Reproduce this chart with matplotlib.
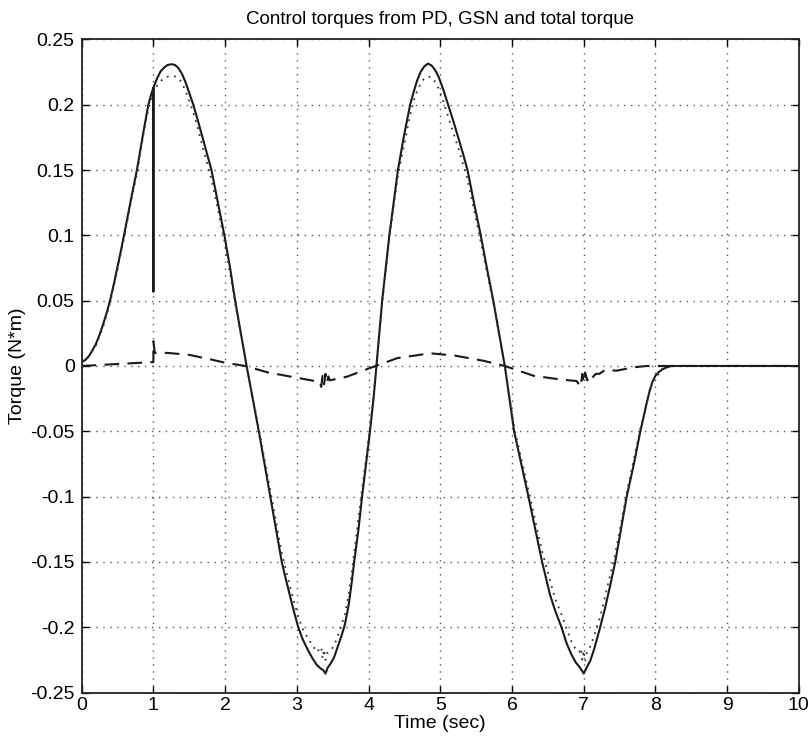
import matplotlib
matplotlib.use("Agg")
import matplotlib.pyplot as plt

plt.rcParams['font.family'] = ['Liberation Sans', 'DejaVu Sans']

# Total torque (solid)
total_t = [0.00, 0.05, 0.10, 0.15, 0.20, 0.25, 0.30, 0.35, 0.395, 0.45, 0.50, 0.55, 0.59, 0.65, 0.70,
           0.77, 0.82, 0.87, 0.93, 0.97, 1.00, 1.00, 1.00,
           1.05, 1.10, 1.15, 1.20, 1.255, 1.30, 1.35, 1.40, 1.45, 1.50, 1.557, 1.62, 1.69, 1.75, 1.81,
           1.90, 1.99, 2.07, 2.14, 2.22, 2.30, 2.385, 2.47, 2.55, 2.63, 2.71, 2.79, 2.85, 2.90, 2.96,
           3.02, 3.08, 3.15, 3.22, 3.28, 3.33, 3.37, 3.40, 3.43, 3.47, 3.52, 3.57, 3.62, 3.67, 3.72,
           3.76, 3.80, 3.86, 3.91, 3.965, 4.02, 4.07, 4.11, 4.15, 4.19, 4.24, 4.29, 4.35, 4.41, 4.49,
           4.58, 4.63, 4.68, 4.73, 4.78, 4.83, 4.88, 4.93, 4.98, 5.04, 5.11, 5.18, 5.25, 5.32, 5.38,
           5.47, 5.565, 5.65, 5.74, 5.82, 5.90, 5.965, 6.03, 6.13, 6.23, 6.325, 6.42, 6.53, 6.60,
           6.69, 6.76, 6.83, 6.89, 6.95, 7.00, 7.04, 7.09, 7.15, 7.23, 7.30, 7.37, 7.44, 7.52, 7.60,
           7.70, 7.79, 7.84, 7.88, 7.92, 7.96, 8.00, 8.05, 8.10, 8.15, 8.20, 8.23, 10.0]
total_v = [0.003, 0.0045, 0.0075, 0.012, 0.017, 0.024, 0.032, 0.041, 0.050, 0.063, 0.076, 0.089, 0.100, 0.117, 0.131,
           0.150, 0.166, 0.182, 0.200, 0.208, 0.213, 0.057, 0.213,
           0.220, 0.2255, 0.2285, 0.2305, 0.231, 0.2305, 0.228, 0.2235, 0.217, 0.209, 0.200, 0.188, 0.174, 0.162, 0.150,
           0.125, 0.100, 0.075, 0.050, 0.025, 0.000, -0.025, -0.050, -0.075, -0.100, -0.125, -0.150, -0.164, -0.175, -0.188,
           -0.200, -0.209, -0.217, -0.224, -0.229, -0.2315, -0.233, -0.2355, -0.231, -0.228, -0.223, -0.215, -0.207, -0.198, -0.184,
           -0.168, -0.150, -0.125, -0.100, -0.075, -0.050, -0.025, 0.000, 0.025, 0.050, 0.075, 0.100, 0.125, 0.150, 0.175,
           0.200, 0.210, 0.219, 0.2255, 0.2295, 0.2315, 0.230, 0.2265, 0.221, 0.212, 0.200, 0.188, 0.175, 0.162, 0.150,
           0.125, 0.100, 0.075, 0.050, 0.025, 0.000, -0.025, -0.050, -0.075, -0.100, -0.125, -0.150, -0.175, -0.187,
           -0.200, -0.212, -0.221, -0.227, -0.231, -0.2355, -0.231, -0.226, -0.216, -0.200, -0.185, -0.168, -0.150, -0.125, -0.100,
           -0.075, -0.050, -0.038, -0.028, -0.019, -0.012, -0.0075, -0.0045, -0.0025, -0.0012, -0.0003, 0.000, 0.000]

# GSN torque (dotted)
gsn_t = [0.00, 0.10, 0.20, 0.30, 0.395, 0.50, 0.59, 0.70, 0.77, 0.87, 0.93, 1.00, 1.05, 1.10, 1.15, 1.20,
         1.26, 1.32, 1.37, 1.42, 1.48, 1.557, 1.62, 1.69, 1.81, 1.99,
         2.14, 2.30, 2.47, 2.63, 2.79, 2.90, 3.02, 3.08, 3.15, 3.22, 3.28, 3.34, 3.36, 3.38, 3.40, 3.42,
         3.47, 3.52, 3.57, 3.62, 3.67, 3.72, 3.76, 3.80, 3.91, 4.02, 4.11, 4.19, 4.29, 4.41, 4.58, 4.63,
         4.68, 4.73, 4.78, 4.83, 4.88, 4.93, 4.98, 5.04, 5.11, 5.25, 5.38,
         5.565, 5.74, 5.90, 6.03, 6.23, 6.42, 6.60, 6.69, 6.76, 6.83, 6.89, 6.94, 6.96, 6.98, 7.00, 7.02,
         7.04, 7.09, 7.15, 7.23, 7.37, 7.44, 7.60, 7.79, 7.95, 8.10, 8.23, 10.0]
gsn_v = [0.003, 0.007, 0.016, 0.030, 0.048, 0.074, 0.098, 0.129, 0.147, 0.180, 0.197, 0.210, 0.2145, 0.218, 0.2205, 0.2215,
         0.222, 0.2215, 0.219, 0.214, 0.206, 0.194, 0.182, 0.167, 0.143, 0.096,
         0.048, 0.000, -0.048, -0.095, -0.143, -0.168, -0.192, -0.201, -0.208, -0.214, -0.219, -0.215, -0.224, -0.217, -0.225, -0.220,
         -0.218, -0.214, -0.207, -0.199, -0.190, -0.176, -0.161, -0.143, -0.094, -0.048, -0.001, 0.048, 0.097, 0.146, 0.192, 0.203,
         0.211, 0.2165, 0.2205, 0.2215, 0.221, 0.2175, 0.212, 0.203, 0.191, 0.167, 0.143,
         0.095, 0.048, 0.000, -0.047, -0.095, -0.142, -0.178, -0.190, -0.201, -0.211, -0.217, -0.219, -0.216, -0.225, -0.218, -0.226,
         -0.220, -0.215, -0.206, -0.192, -0.160, -0.144, -0.097, -0.048, -0.013, -0.002, 0.000, 0.000]

# PD torque (dashed)
pd_t = [0.00, 0.50, 1.00, 1.00, 1.02, 1.20, 1.50, 1.80, 2.00, 2.28, 2.60, 3.00, 3.25, 3.32,
        3.34, 3.36, 3.38, 3.40, 3.42, 3.44, 3.46, 3.70, 4.00, 4.10, 4.40, 4.86, 5.20, 5.60, 5.90,
        6.30, 6.70, 6.90, 6.96, 6.98, 7.00, 7.02, 7.05, 7.08, 7.12, 7.17, 7.22, 7.30, 7.46, 7.70,
        7.88, 10.0]
pd_v = [0.000, 0.0015, 0.003, 0.019, 0.010, 0.010, 0.0085, 0.005, 0.0025, 0.000, -0.005, -0.009, -0.0115, -0.012,
        -0.016, -0.007, -0.014, -0.006, -0.013, -0.008, -0.011, -0.0082, -0.002, 0.000, 0.006, 0.0097, 0.008, 0.004, 0.000,
        -0.0075, -0.0105, -0.0115, -0.016, -0.006, -0.013, -0.005, -0.011, -0.007, -0.009, -0.006, -0.006, -0.003, -0.0036, -0.001,
        0.000, 0.000]

xticks = [0, 1, 2, 3, 4, 5, 6, 7, 8, 9, 10]
yticks = [-0.25, -0.2, -0.15, -0.1, -0.05, 0, 0.05, 0.1, 0.15, 0.2, 0.25]
ytick_labels = ['-0.25', '-0.2', '-0.15', '-0.1', '-0.05', '0', '0.05', '0.1', '0.15', '0.2', '0.25']

fig = plt.figure(figsize=(8.11, 7.44), dpi=100)
ax = fig.add_axes([0.1007, 0.0692, 0.8843, 0.8778])

ax.plot(total_t, total_v, color='#1a1a1a', lw=1.5, linestyle='-')
ax.plot(gsn_t, gsn_v, color='#333333', lw=1.3, linestyle=(0, (1, 3)))
ax.plot(pd_t, pd_v, color='#1a1a1a', lw=1.5, linestyle=(0, (7, 4)))

ax.set_xlim(0, 10)
ax.set_ylim(-0.25, 0.25)
ax.set_xticks(xticks)
ax.set_xticklabels([str(v) for v in xticks])
ax.set_yticks(yticks)
ax.set_yticklabels(ytick_labels)
ax.grid(True, color='#555555', linestyle=(0, (1, 4)), lw=1.0)
ax.tick_params(direction='in', length=5, labelsize=14, width=1, top=True, right=True)
ax.tick_params(axis='x', pad=3)
ax.tick_params(axis='y', pad=5)
for s in ax.spines.values():
    s.set_linewidth(1.3)
    s.set_color('#222222')

ax.set_title('Control torques from PD, GSN and total torque', fontsize=13.5, pad=11)
ax.set_xlabel('Time (sec)', fontsize=14, labelpad=1)
ax.set_ylabel('Torque (N*m)', fontsize=14, labelpad=3)

fig.savefig('out.png', dpi=100)
